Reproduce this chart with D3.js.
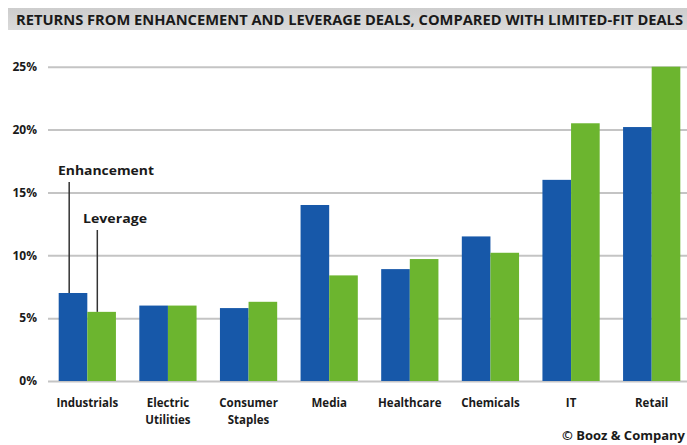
<!DOCTYPE html>
<html>
<head>
<meta charset="utf-8">
<script src="https://cdn.jsdelivr.net/npm/d3@7/dist/d3.min.js"></script>
<style>
  html, body { margin: 0; padding: 0; background: #fff; }
  svg { display: block; }
  text { font-family: "Open Sans", "DejaVu Sans", sans-serif; font-weight: 700; fill: #1a1a1a; }
</style>
</head>
<body>
<svg id="chart" width="687" height="445"></svg>
<script>
// Sector returns, in percent
const categories = ["Industrials", "Electric Utilities", "Consumer Staples", "Media", "Healthcare", "Chemicals", "IT", "Retail"];
const seriesNames = ["Enhancement", "Leverage"];
const enhancement = [7.0, 6.0, 5.8, 14.0, 8.9, 11.5, 16.0, 20.2];
const leverage = [5.5, 6.0, 6.3, 8.4, 9.7, 10.2, 20.5, 25.0];
const yTicks = [0, 5, 10, 15, 20, 25];
const titleText = "RETURNS FROM ENHANCEMENT AND LEVERAGE DEALS, COMPARED WITH LIMITED-FIT DEALS";
const creditText = "© Booz & Company";

const svg = d3.select("#chart");
const W = 687, H = 445;

// Title band with a soft gray fade
const defs = svg.append("defs");
const grad = defs.append("linearGradient").attr("id", "titleFade").attr("x1", 0).attr("x2", 0).attr("y1", 0).attr("y2", 1);
grad.append("stop").attr("offset", "0%").attr("stop-color", "#cdcdcd");
grad.append("stop").attr("offset", "100%").attr("stop-color", "#dadada");
svg.append("rect").attr("x", 8).attr("y", 8).attr("width", W - 8).attr("height", 22).attr("fill", "url(#titleFade)");
svg.append("text").attr("x", 16).attr("y", 24.5)
  .attr("font-size", 13.5)
  .attr("textLength", 667).attr("lengthAdjust", "spacingAndGlyphs")
  .text(titleText);

// Scales
const y = d3.scaleLinear().domain([0, 25]).range([381, 66.7]);
const x0 = d3.scaleBand().domain(categories).range([47, 692]).paddingInner(0.29).paddingOuter(0.145);
const x1 = d3.scaleBand().domain(seriesNames).range([0, x0.bandwidth()]).padding(0);
const color = d3.scaleOrdinal().domain(seriesNames).range(["#1758a9", "#6cb52f"]);

// Gridlines and y labels
const yAxis = d3.axisLeft(y).tickValues(yTicks).tickFormat(d => d + "%").tickSize(-(W - 48)).tickPadding(11);
const gy = svg.append("g").attr("transform", "translate(48,0)").call(yAxis);
gy.select(".domain").remove();
gy.selectAll(".tick line").attr("stroke", "#c4c4c4").attr("stroke-width", 2);
gy.selectAll(".tick text").attr("font-size", 12).attr("fill", "#1a1a1a")
  .style("font-family", "'Open Sans', sans-serif").style("font-weight", 700);

// Bars
const rows = categories.map((c, i) => ({ cat: c, vals: [
  { key: "Enhancement", v: enhancement[i] },
  { key: "Leverage", v: leverage[i] }
]}));
const groups = svg.append("g").selectAll("g").data(rows).join("g")
  .attr("transform", d => `translate(${x0(d.cat)},0)`);
groups.selectAll("rect").data(d => d.vals).join("rect")
  .attr("x", d => x1(d.key))
  .attr("width", x1.bandwidth())
  .attr("y", d => y(d.v))
  .attr("height", d => y(0) - y(d.v))
  .attr("fill", d => color(d.key));

// Category labels (wrapped onto two lines where needed)
const labelsG = svg.append("g");
const wrapped = {
  "Electric Utilities": ["Electric", "Utilities"],
  "Consumer Staples": ["Consumer", "Staples"]
};
categories.forEach(c => {
  const lines = wrapped[c] || [c];
  const t = labelsG.append("text")
    .attr("x", x0(c) + x0.bandwidth() / 2)
    .attr("y", 407)
    .attr("text-anchor", "middle")
    .attr("font-size", 11.5);
  lines.forEach((ln, k) => {
    t.append("tspan").attr("x", x0(c) + x0.bandwidth() / 2).attr("dy", k === 0 ? 0 : 16.5).text(ln);
  });
});

// Series callouts pointing at the first group
const first = categories[0];
const callouts = [
  { key: "Enhancement", v: enhancement[0], textY: 174.5, lineTop: 182, textX: 58 },
  { key: "Leverage", v: leverage[0], textY: 223, lineTop: 230, textX: 83 }
];
callouts.forEach(c => {
  const cx = x0(first) + x1(c.key) + (c.key === "Enhancement" ? 10.5 : 10);
  svg.append("line")
    .attr("x1", cx).attr("x2", cx)
    .attr("y1", c.lineTop).attr("y2", y(c.v))
    .attr("stroke", "#333").attr("stroke-width", 1.5);
  svg.append("text").attr("x", c.textX).attr("y", c.textY)
    .attr("font-size", 12.5)
    .attr("textLength", c.key === "Enhancement" ? 96 : 64).attr("lengthAdjust", "spacingAndGlyphs")
    .text(c.key);
});

// Credit line, in a condensed face
svg.append("text").attr("x", 685).attr("y", 440)
  .attr("text-anchor", "end")
  .attr("font-size", 13)
  .style("font-family", "'Liberation Sans Narrow', 'Open Sans', sans-serif")
  .text(creditText);
</script>
</body>
</html>
